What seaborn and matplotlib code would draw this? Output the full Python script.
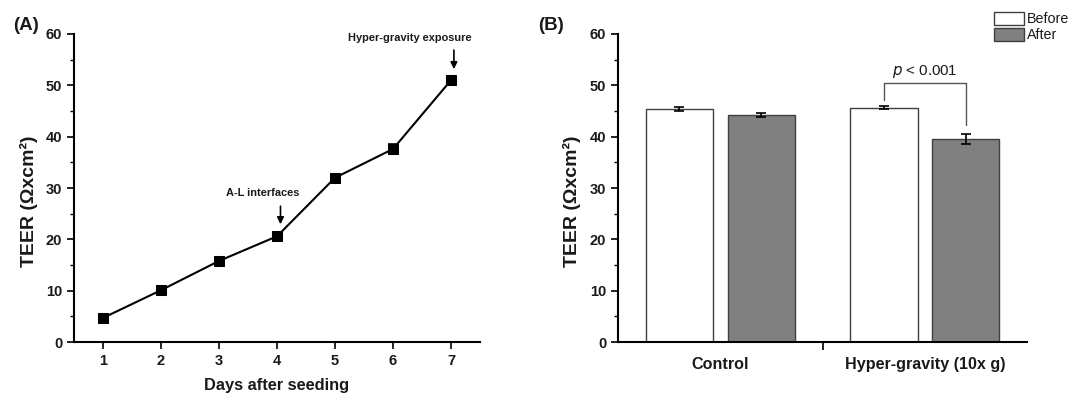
import matplotlib
matplotlib.use("Agg")
import matplotlib.pyplot as plt
import seaborn as sns
import numpy as np
import pandas as pd
from matplotlib.ticker import MultipleLocator
from matplotlib.patches import Patch

# ---- data ----
days = [1, 2, 3, 4, 5, 6, 7]
teer_days = [4.7, 10.1, 15.8, 20.6, 32.0, 37.6, 51.0]
teer_days_err = [0.4, 0.4, 0.4, 0.4, 0.8, 0.9, 0.9]

groups = ["Control", "Hyper-gravity (10x g)"]
conditions = ["Before", "After"]
before_vals = [45.4, 45.6]
before_err = [0.4, 0.3]
after_vals = [44.3, 39.6]
after_err = [0.4, 1.0]

sns.set_theme(style="ticks")
plt.rcParams["font.family"] = ["Liberation Sans", "DejaVu Sans"]
for k in ("text.color", "axes.labelcolor", "xtick.color", "ytick.color"):
    plt.rcParams[k] = "#1a1a1a"

fig = plt.figure(figsize=(10.77, 3.95), dpi=100)
axA = fig.add_axes([0.0687, 0.134, 0.377, 0.780])
axB = fig.add_axes([0.5738, 0.134, 0.380, 0.780])

ylab = "TEER (Ωxcm²)"

# ---- Panel A ----
sns.lineplot(x=days, y=teer_days, ax=axA, color="black", marker="s",
             markersize=6.5, linewidth=1.5, markeredgecolor="black")
axA.errorbar(days, teer_days, yerr=teer_days_err, fmt="none", ecolor="black",
             elinewidth=1.2, capsize=3.5, capthick=1.2)
axA.set_xlim(0.5, 7.5)
axA.set_ylim(0, 60)
axA.set_xticks(days)
axA.yaxis.set_major_locator(MultipleLocator(10))
axA.yaxis.set_minor_locator(MultipleLocator(5))
axA.set_xlabel("Days after seeding", fontsize=11.8, fontweight="bold", labelpad=7)
axA.set_ylabel(ylab, fontsize=14, fontweight="bold")
axA.yaxis.set_label_coords(-0.088, 0.458)
axA.annotate("", xy=(4.06, 22.4), xytext=(4.06, 27.0),
             arrowprops=dict(arrowstyle="-|>", color="black", lw=1.2, mutation_scale=10))
axA.text(3.75, 29.0, "A-L interfaces", ha="center", va="center",
         fontsize=7.9, fontweight="bold")
axA.annotate("", xy=(7.05, 52.6), xytext=(7.05, 57.4),
             arrowprops=dict(arrowstyle="-|>", color="black", lw=1.2, mutation_scale=10))
axA.text(6.29, 59.3, "Hyper-gravity exposure", ha="center", va="center",
         fontsize=7.9, fontweight="bold")
fig.text(0.012, 0.935, "(A)", fontsize=13.5, fontweight="bold", va="center")

# ---- Panel B ----
df = pd.DataFrame({
    "group": groups * 2,
    "condition": [conditions[0]] * 2 + [conditions[1]] * 2,
    "value": before_vals + after_vals,
})
sns.barplot(data=df, x="group", y="value", hue="condition", order=groups,
            hue_order=conditions, palette={"Before": "white", "After": "#808080"},
            errorbar=None, width=0.8, gap=0.18, edgecolor="#404040",
            linewidth=1.0, saturation=1, ax=axB, legend=False)
errs = [before_err, after_err]
centers = {}
bar_containers = list(axB.containers)
for ci, cont in enumerate(bar_containers):
    for gi, bar in enumerate(cont.patches):
        xc = bar.get_x() + bar.get_width() / 2
        centers[(ci, gi)] = (xc, bar.get_height())
for (ci, gi), (xc, h) in centers.items():
    axB.errorbar(xc, h, yerr=errs[ci][gi], fmt="none",
                 ecolor="black", elinewidth=1.2, capsize=3.5, capthick=1.2)
axB.set_xlim(-0.5, 1.5)
axB.set_ylim(0, 60)
axB.yaxis.set_major_locator(MultipleLocator(10))
axB.yaxis.set_minor_locator(MultipleLocator(5))
axB.set_xticks([0, 1])
axB.set_xticklabels(groups, fontsize=11.6, fontweight="bold")
axB.tick_params(axis="x", length=0, pad=11)
axB.set_xticks([0.5], minor=True)
axB.tick_params(axis="x", which="minor", length=6, width=1.2, color="black")
axB.set_xlabel("")
axB.set_ylabel(ylab, fontsize=14, fontweight="bold")
axB.yaxis.set_label_coords(-0.09, 0.458)

# significance bracket
x1, h1 = centers[(0, 1)]
x2, h2 = centers[(1, 1)]
ytop = 50.4
axB.plot([x1, x1, x2, x2], [47.1, ytop, ytop, 42.3], color="#555555", lw=1.0)
axB.text((x1 + x2) / 2, 51.0, "$\\it{p}$ < 0.001", ha="center", va="bottom", fontsize=10.8)

handles = [Patch(facecolor="white", edgecolor="#404040", label="Before"),
           Patch(facecolor="#808080", edgecolor="#404040", label="After")]
fig.legend(handles=handles, loc="upper left", bbox_to_anchor=(0.914, 0.995),
           frameon=False, fontsize=10.3, handlelength=2.1, handleheight=1.0,
           labelspacing=0.12, handletextpad=0.15, borderpad=0.2)
fig.text(0.5, 0.935, "(B)", fontsize=13.5, fontweight="bold", va="center")

for ax in (axA, axB):
    sns.despine(ax=ax)
    for s in ("left", "bottom"):
        ax.spines[s].set_linewidth(1.5)
        ax.spines[s].set_color("black")
    ax.tick_params(axis="y", which="major", length=5, width=1.2, labelsize=10.5, color="black")
    ax.tick_params(axis="y", which="minor", length=3, width=1.0, color="black")
    for lbl in ax.get_yticklabels():
        lbl.set_fontweight("bold")
axA.tick_params(axis="x", which="major", length=5, width=1.2, labelsize=10.5, color="black")
for lbl in axA.get_xticklabels():
    lbl.set_fontweight("bold")

fig.savefig("out.png", dpi=100)
